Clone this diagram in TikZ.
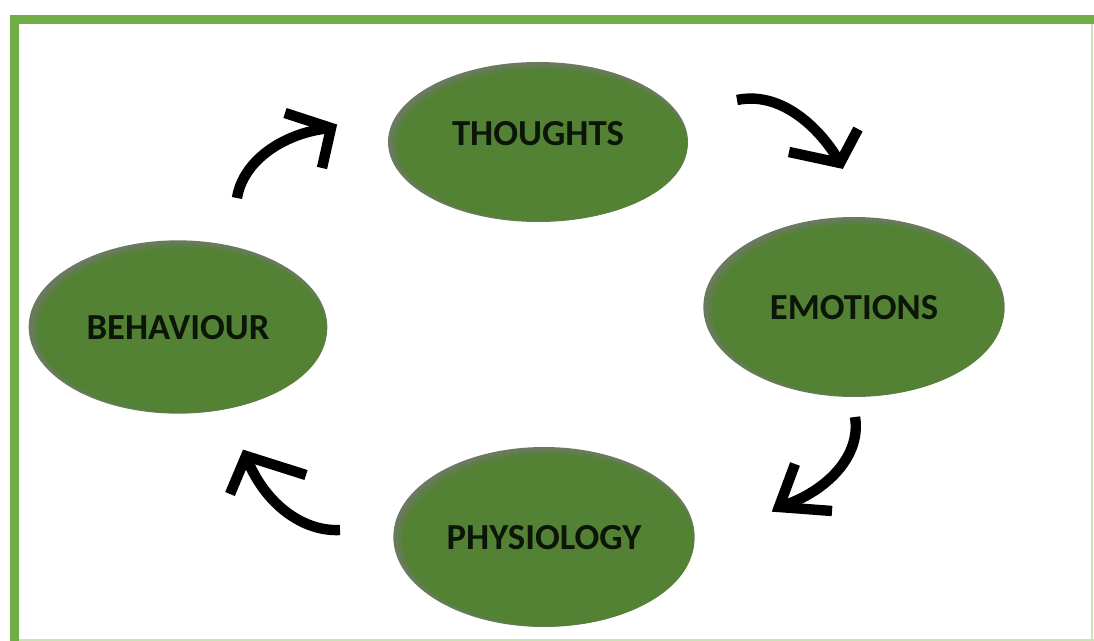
\documentclass[tikz,border=0pt]{standalone}
\usepackage{fontspec}
\setmainfont{Carlito}
\usetikzlibrary{shapes.geometric}

\definecolor{framegreen}{RGB}{112,173,71}
\definecolor{framepale}{RGB}{200,228,180}
\definecolor{ovalgreen}{RGB}{84,130,53}
\definecolor{ovalrim}{RGB}{106,122,94}
\definecolor{labelink}{RGB}{12,22,8}

\tikzset{
  oval/.style={ellipse, draw=none, fill=none, inner sep=0pt, outer sep=0pt,
    text=labelink, font=\fontsize{27.5}{32}\selectfont\bfseries,
    text height=18pt, text depth=0pt},
  curl/.style={line width=7.8pt, black},
  barb/.style={line width=7.8pt, black, line join=miter, miter limit=10},
}

% shaded oval body: rim colour with the green face set slightly down-right
\newcommand{\ovalbody}[3]{% centre, x radius, y radius (pt)
  \fill[ovalrim] (#1) ellipse [x radius=#2pt, y radius=#3pt];
  \fill[ovalgreen, opacity=.55] ([shift={(2,1.5)}]#1) ellipse [x radius=#2pt-2pt, y radius=#3pt-1.5pt];
  \fill[ovalgreen] ([shift={(4,3)}]#1) ellipse [x radius=#2pt-3.5pt, y radius=#3pt-3pt];
}

\begin{document}
\begin{tikzpicture}[x=0.75pt, y=-0.75pt]
  \useasboundingbox (0,0) rectangle (1094,641);
  \fill[white] (0,0) rectangle (1094,641);

  % outer frame
  \draw[framegreen, line width=6.75pt] (14.5,19.5) rectangle (1130,700);
  \draw[framepale, line width=1.5pt] (1092,24) -- (1092,641);
  \draw[framepale, line width=1.5pt] (19,639.5) -- (1094,639.5);

  % oval centres
  \coordinate (cT) at (538,142);
  \coordinate (cE) at (854,307);
  \coordinate (cB) at (178,327);
  \coordinate (cP) at (544,537);

  \ovalbody{cT}{112.5}{60}
  \ovalbody{cE}{113}{67.5}
  \ovalbody{cB}{112}{65}
  \ovalbody{cP}{113}{67.5}

  \node[oval, minimum width=225pt, minimum height=120pt, text depth=12pt] (T) at (cT) {THOUGHTS};
  \node[oval, minimum width=226pt, minimum height=135pt] (E) at (cE) {EMOTIONS};
  \node[oval, minimum width=224pt, minimum height=130pt] (B) at (cB) {BEHAVIOUR};
  \node[oval, minimum width=226pt, minimum height=135pt] (P) at (cP) {PHYSIOLOGY};

  % behaviour -> thoughts
  \coordinate (a1s) at (237,198);
  \coordinate (a1t) at (331,128);
  \coordinate (a1l) at (285,113);
  \coordinate (a1r) at (322,168);
  \draw[curl] (a1s) .. controls (243,160) and (285,132) .. (a1t);
  \draw[barb] (a1l) -- (a1t) -- (a1r);

  % thoughts -> emotions
  \coordinate (a2s) at (737,100);
  \coordinate (a2t) at (840,163);
  \coordinate (a2l) at (789,152);
  \coordinate (a2r) at (858,129);
  \draw[curl] (a2s) .. controls (785,90) and (825,135) .. (a2t);
  \draw[barb] (a2l) -- (a2t) -- (a2r);

  % emotions -> physiology
  \coordinate (a3s) at (855,417);
  \coordinate (a3t) at (779,507);
  \coordinate (a3l) at (795,464);
  \coordinate (a3r) at (832,511);
  \draw[curl] (a3s) .. controls (862,460) and (820,495) .. (a3t);
  \draw[barb] (a3l) -- (a3t) -- (a3r);

  % physiology -> behaviour
  \coordinate (a4s) at (340,530);
  \coordinate (a4t) at (246,456);
  \coordinate (a4l) at (230,494);
  \coordinate (a4r) at (306,475);
  \draw[curl] (a4s) .. controls (300,532) and (262,500) .. (a4t);
  \draw[barb] (a4l) -- (a4t) -- (a4r);
\end{tikzpicture}
\end{document}
